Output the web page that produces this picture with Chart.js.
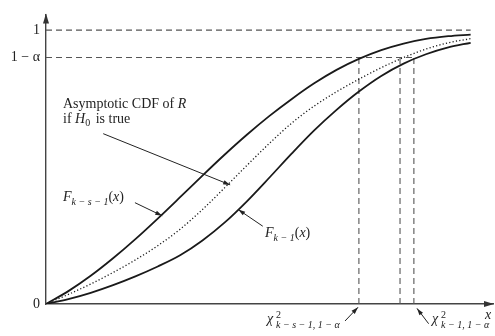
<!DOCTYPE html>
<html>
<head>
<meta charset="utf-8">
<script src="https://cdn.jsdelivr.net/npm/chart.js@4.4.1/dist/chart.umd.min.js"></script>
<style>
html,body{margin:0;padding:0;background:#fff;}
#wrap{width:495px;height:336px;position:relative;}
</style>
</head>
<body>
<div id="wrap"><canvas id="c" width="495" height="336"></canvas></div>
<script>
// ---- data ----
const xValues   = [0, 5, 10, 15, 20, 25, 30, 35, 40, 45, 50, 55, 60, 65, 70, 75, 80, 85, 90, 95];
const cdfUpper  = [0, 0.047, 0.103, 0.167, 0.237, 0.312, 0.390, 0.469, 0.546, 0.619, 0.687, 0.749, 0.806, 0.855, 0.895, 0.927, 0.951, 0.968, 0.978, 0.984]; // F_{k-s-1}
const cdfMiddle = [0, 0.035, 0.073, 0.115, 0.161, 0.213, 0.273, 0.345, 0.425, 0.507, 0.587, 0.661, 0.723, 0.775, 0.821, 0.863, 0.900, 0.931, 0.954, 0.969]; // asymptotic CDF of R
const cdfLower  = [0, 0.018, 0.041, 0.069, 0.101, 0.137, 0.178, 0.232, 0.298, 0.376, 0.462, 0.550, 0.634, 0.709, 0.776, 0.833, 0.878, 0.912, 0.937, 0.954]; // F_{k-1}
const critX     = [70, 79.2, 82.3];   // chi^2_{k-s-1,1-a}, middle quantile, chi^2_{k-1,1-a}
const levelOne  = 1;
const levelAlpha = 0.9;
const curveEndX = 95;
const yTickValues = [0, 0.9, 1];
const yTickLabels = ['0', '1 − α', '1'];

const SERIF = '"Liberation Serif","DejaVu Serif",serif';
const pts = arr => xValues.map((x, i) => ({x: x, y: arr[i]}));
const DASH = [6, 4];
const dashColor = '#555';

const datasets = [
  {data: pts(cdfUpper), borderColor: '#1a1a1a', borderWidth: 1.8, cubicInterpolationMode: 'monotone'},
  {data: pts(cdfMiddle), borderColor: '#1a1a1a', borderWidth: 1.3, borderDash: [1.2, 2.2], cubicInterpolationMode: 'monotone'},
  {data: pts(cdfLower), borderColor: '#1a1a1a', borderWidth: 1.8, cubicInterpolationMode: 'monotone'},
  {data: [{x: 0, y: levelOne}, {x: curveEndX, y: levelOne}], borderColor: dashColor, borderWidth: 1.1, borderDash: DASH},
  {data: [{x: 0, y: levelAlpha}, {x: critX[2], y: levelAlpha}], borderColor: dashColor, borderWidth: 1.1, borderDash: DASH}
];
critX.forEach(cx => datasets.push({data: [{x: cx, y: 0}, {x: cx, y: levelAlpha}], borderColor: dashColor, borderWidth: 1.1, borderDash: DASH}));
datasets.forEach(d => { d.pointRadius = 0; d.fill = false; d.tension = 0; });

function drawRich(ctx, x, y, segs) {
  let cx = x;
  segs.forEach(s => {
    ctx.font = (s.italic ? 'italic ' : '') + (s.size || 14) + 'px ' + SERIF;
    ctx.fillText(s.t, cx, y + (s.dy || 0));
    cx += ctx.measureText(s.t).width + (s.gap || 0);
  });
}
function arrow(ctx, x1, y1, x2, y2) {
  ctx.beginPath(); ctx.moveTo(x1, y1); ctx.lineTo(x2, y2); ctx.stroke();
  const a = Math.atan2(y2 - y1, x2 - x1), L = 7, W = 2.2;
  ctx.beginPath();
  ctx.moveTo(x2, y2);
  ctx.lineTo(x2 - L * Math.cos(a) + W * Math.sin(a), y2 - L * Math.sin(a) - W * Math.cos(a));
  ctx.lineTo(x2 - L * Math.cos(a) - W * Math.sin(a), y2 - L * Math.sin(a) + W * Math.cos(a));
  ctx.closePath(); ctx.fill();
}

const annot = {
  id: 'annot',
  afterDraw(chart) {
    const ctx = chart.ctx, xs = chart.scales.x, ys = chart.scales.y;
    const P = (x, y) => [xs.getPixelForValue(x), ys.getPixelForValue(y)];
    const a = chart.chartArea;
    ctx.save();
    ctx.fillStyle = '#333'; ctx.strokeStyle = '#333'; ctx.lineWidth = 1;
    // axis arrow heads
    ctx.beginPath(); ctx.moveTo(a.left, a.top - 1); ctx.lineTo(a.left - 3, a.top + 9); ctx.lineTo(a.left + 3, a.top + 9); ctx.closePath(); ctx.fill();
    ctx.beginPath(); ctx.moveTo(a.right + 1, a.bottom); ctx.lineTo(a.right - 9, a.bottom - 3); ctx.lineTo(a.right - 9, a.bottom + 3); ctx.closePath(); ctx.fill();
    ctx.fillStyle = '#222'; ctx.strokeStyle = '#222';
    ctx.textBaseline = 'alphabetic';
    // x label
    drawRich(ctx, 485, 319, [{t: 'x', italic: true}]);
    // Asymptotic CDF label
    drawRich(ctx, 63, 108, [{t: 'Asymptotic CDF of '}, {t: 'R', italic: true}]);
    drawRich(ctx, 63, 123, [{t: 'if '}, {t: 'H', italic: true}, {t: '0', size: 10, dy: 3, gap: 2}, {t: ' is true'}]);
    ctx.lineWidth = 1;
    let t = P(12.8, 0.622), h = P(41.2, 0.435);
    arrow(ctx, t[0], t[1], h[0], h[1]);
    // F_{k-s-1}(x)
    drawRich(ctx, 63, 201, [{t: 'F', italic: true}, {t: 'k − s − 1', italic: true, size: 10, dy: 4}, {t: '('}, {t: 'x', italic: true}, {t: ')'}]);
    t = P(19.9, 0.37); h = P(26.0, 0.322);
    arrow(ctx, t[0], t[1], h[0], h[1]);
    // F_{k-1}(x)
    drawRich(ctx, 265, 237, [{t: 'F', italic: true}, {t: 'k − 1', italic: true, size: 10, dy: 4}, {t: '('}, {t: 'x', italic: true}, {t: ')'}]);
    t = P(48.5, 0.284); h = P(43.0, 0.345);
    arrow(ctx, t[0], t[1], h[0], h[1]);
    // chi-square quantile labels
    drawRich(ctx, 267, 323, [{t: 'χ', italic: true}]);
    drawRich(ctx, 276, 318, [{t: '2', size: 10}]);
    drawRich(ctx, 276, 328, [{t: 'k − s − 1, 1 − ', italic: true, size: 10}, {t: 'α', italic: true, size: 10}]);
    t = P(66.9, -0.062); h = P(69.8, -0.012);
    arrow(ctx, t[0], t[1], h[0], h[1]);
    drawRich(ctx, 432, 323, [{t: 'χ', italic: true}]);
    drawRich(ctx, 441, 318, [{t: '2', size: 10}]);
    drawRich(ctx, 441, 328, [{t: 'k − 1, 1 − ', italic: true, size: 10}, {t: 'α', italic: true, size: 10}]);
    t = P(85.6, -0.072); h = P(83.0, -0.016);
    arrow(ctx, t[0], t[1], h[0], h[1]);
    ctx.restore();
  }
};

new Chart(document.getElementById('c'), {
  type: 'line',
  data: {datasets: datasets},
  options: {
    responsive: false,
    animation: false,
    devicePixelRatio: 1,
    layout: {padding: {top: 10, right: 2, left: 0, bottom: 0}},
    plugins: {legend: {display: false}, tooltip: {enabled: false}},
    scales: {
      x: {
        type: 'linear', min: 0, max: 100,
        grid: {display: false, drawTicks: false},
        border: {display: true, color: '#444', width: 1.4},
        ticks: {display: false},
        afterFit: s => { s.height = 32; }
      },
      y: {
        type: 'linear', min: 0, max: 1.0576,
        grid: {display: false, drawTicks: false},
        border: {display: true, color: '#444', width: 1.4},
        afterBuildTicks: s => { s.ticks = yTickValues.map(v => ({value: v})); },
        ticks: {
          padding: 6, color: '#222',
          font: {family: SERIF, size: 14},
          callback: v => yTickLabels[yTickValues.indexOf(v)]
        },
        afterFit: s => { s.width = 46; }
      }
    }
  },
  plugins: [annot]
});
</script>
</body>
</html>
